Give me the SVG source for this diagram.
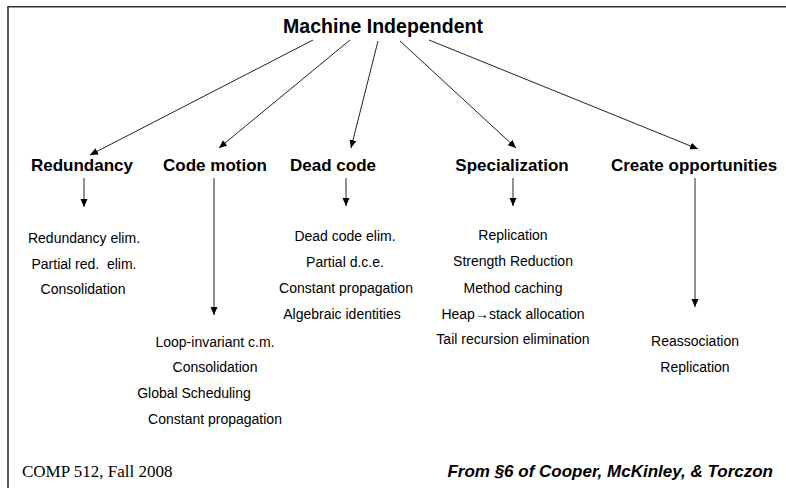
<svg xmlns="http://www.w3.org/2000/svg" width="786" height="488" viewBox="0 0 786 488">
<style>
.bg{fill:#ffffff}
.frame{fill:none;stroke:#333;stroke-width:1.6}
.title{font-family:"Liberation Sans",Arial,sans-serif;font-weight:bold;font-size:19.5px;fill:#000;text-anchor:middle}
.head{font-family:"Liberation Sans",Arial,sans-serif;font-weight:bold;font-size:17px;fill:#000;text-anchor:middle}
.item{font-family:"Liberation Sans",Arial,sans-serif;font-size:14px;fill:#000;text-anchor:middle}
.pre{white-space:pre}
.foot{font-family:"Liberation Serif","Times New Roman",serif;font-size:17px;fill:#000}
.cite{font-family:"Liberation Sans",Arial,sans-serif;font-weight:bold;font-style:italic;font-size:17px;fill:#000;text-anchor:end}
.edge{fill:none;stroke:#222;stroke-width:1;marker-end:url(#ah)}
</style>
<defs>
<marker id="ah" markerUnits="userSpaceOnUse" markerWidth="9" markerHeight="8" refX="8" refY="3.5" orient="auto">
<path d="M0,0 L8,3.5 L0,7 z" fill="#000"/>
</marker>
</defs>
<rect class="bg" x="0" y="0" width="786" height="488"/>
<path class="frame" d="M8,488 V6.8 H786"/>
<g id="connectors">
<line class="edge" x1="313" y1="40" x2="90" y2="155"/>
<line class="edge" x1="350" y1="40" x2="219" y2="148"/>
<line class="edge" x1="378" y1="41" x2="351" y2="148"/>
<line class="edge" x1="400" y1="41" x2="516" y2="148"/>
<line class="edge" x1="429" y1="40" x2="698" y2="149"/>
<line class="edge" x1="84" y1="178" x2="84" y2="207"/>
<line class="edge" x1="214" y1="178" x2="214" y2="315"/>
<line class="edge" x1="346" y1="178" x2="346" y2="206"/>
<line class="edge" x1="513" y1="178" x2="513" y2="206"/>
<line class="edge" x1="695" y1="178" x2="695" y2="307"/>
</g>
<g id="root"><text class="title" x="383" y="33" textLength="200">Machine Independent</text></g>
<g id="redundancy">
<text class="head" x="82" y="171">Redundancy</text>
<text class="item" x="84" y="243">Redundancy elim.</text>
<text class="item pre" x="84" y="269" xml:space="preserve">Partial red.  elim.</text>
<text class="item" x="83" y="294">Consolidation</text>
</g>
<g id="code-motion">
<text class="head" x="215" y="171">Code motion</text>
<text class="item" x="215" y="347">Loop-invariant c.m.</text>
<text class="item" x="215" y="372">Consolidation</text>
<text class="item" x="194" y="398">Global Scheduling</text>
<text class="item" x="215" y="424">Constant propagation</text>
</g>
<g id="dead-code">
<text class="head" x="333" y="171">Dead code</text>
<text class="item" x="345" y="241">Dead code elim.</text>
<text class="item" x="345" y="267">Partial d.c.e.</text>
<text class="item" x="346" y="293">Constant propagation</text>
<text class="item" x="342" y="319">Algebraic identities</text>
</g>
<g id="specialization">
<text class="head" x="512" y="171">Specialization</text>
<text class="item" x="513" y="240">Replication</text>
<text class="item" x="513" y="266">Strength Reduction</text>
<text class="item" x="513" y="293">Method caching</text>
<text class="item" x="513" y="319">Heap→stack allocation</text>
<text class="item" x="513" y="344">Tail recursion elimination</text>
</g>
<g id="create-opportunities">
<text class="head" x="694" y="171">Create opportunities</text>
<text class="item" x="695" y="346">Reassociation</text>
<text class="item" x="695" y="372">Replication</text>
</g>
<g id="footer">
<text class="foot" x="22" y="477">COMP 512, Fall 2008</text>
<text class="cite" x="773" y="477">From §6 of Cooper, McKinley, &amp; Torczon</text>
</g>
</svg>
